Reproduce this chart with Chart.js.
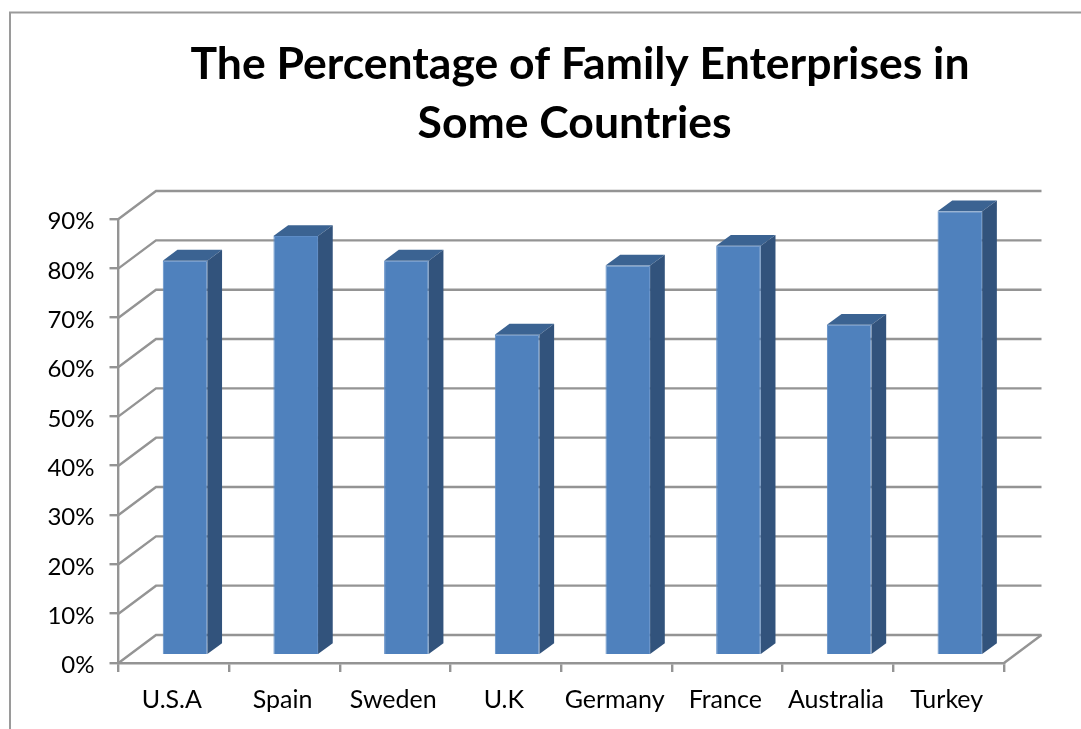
<!DOCTYPE html>
<html>
<head>
<meta charset="utf-8">
<style>
  html, body { margin: 0; padding: 0; background: #fff; overflow: hidden; }
  canvas { display: block; }
</style>
<script src="https://cdn.jsdelivr.net/npm/chart.js@4/dist/chart.umd.min.js"></script>
</head>
<body>
<canvas id="chart" width="1081" height="729"></canvas>
<script>
const categories = ['U.S.A', 'Spain', 'Sweden', 'U.K', 'Germany', 'France', 'Australia', 'Turkey'];
const percentages = [80, 85, 80, 65, 79, 83, 67, 90];
const titleLines = ['The Percentage of Family Enterprises in', 'Some Countries '];

const LINE = '#949494';
const LINE_WIDTH = 2.4;
const WALL = { dx: 37.5, dy: 28 };    // depth of the chart box
const SHIFT = { dx: 11.2, dy: 7.7 };  // bars stand partway into the box
const BAR = { dx: 14.7, dy: 10.8 };   // depth of each bar
const TOP_FACE = '#3b6392';
const SIDE_FACE = '#32537c';

function stroke(ctx, pts) {
  ctx.beginPath();
  pts.forEach((p, i) => i ? ctx.lineTo(p[0], p[1]) : ctx.moveTo(p[0], p[1]));
  ctx.stroke();
}
function face(ctx, pts, color) {
  ctx.beginPath();
  pts.forEach((p, i) => i ? ctx.lineTo(p[0], p[1]) : ctx.moveTo(p[0], p[1]));
  ctx.closePath();
  ctx.fillStyle = color;
  ctx.fill();
}

const box3d = {
  id: 'box3d',
  afterLayout(chart) {
    // the heading sits over the whole frame rather than the plot area
    chart.titleBlock.left += 78;
    chart.titleBlock.right += 78;
  },
  beforeDraw(chart) {
    const ctx = chart.ctx;
    ctx.save();
    ctx.strokeStyle = '#9a9a9a';
    ctx.lineWidth = 2;
    stroke(ctx, [[10, 729], [10, 12.5], [1081, 12.5]]);
    ctx.restore();
  },
  beforeDatasetsDraw(chart) {
    const { ctx, chartArea: a, scales: { y } } = chart;
    ctx.save();
    ctx.strokeStyle = LINE;
    ctx.lineWidth = LINE_WIDTH;
    y.ticks.forEach(t => {
      const py = y.getPixelForValue(t.value);
      stroke(ctx, [[a.left, py], [a.left + WALL.dx, py - WALL.dy], [a.right + WALL.dx, py - WALL.dy]]);
    });
    stroke(ctx, [[a.right, a.bottom], [a.right + WALL.dx, a.bottom - WALL.dy]]);
    ctx.restore();
  },
  beforeDatasetDraw(chart) {
    chart.ctx.save();
    chart.ctx.translate(SHIFT.dx, -SHIFT.dy);
  },
  afterDatasetDraw(chart, args) {
    const ctx = chart.ctx;
    chart.getDatasetMeta(args.index).data.forEach(bar => {
      const { x, y, base, width } = bar.getProps(['x', 'y', 'base', 'width'], true);
      const l = x - width / 2, r = x + width / 2;
      face(ctx, [[l, y], [l + BAR.dx, y - BAR.dy], [r + BAR.dx, y - BAR.dy], [r, y]], TOP_FACE);
      face(ctx, [[r, y], [r + BAR.dx, y - BAR.dy], [r + BAR.dx, base - BAR.dy], [r, base]], SIDE_FACE);
    });
    ctx.restore();
  }
};

new Chart(document.getElementById('chart'), {
  type: 'bar',
  data: {
    labels: categories,
    datasets: [{
      data: percentages,
      backgroundColor: '#4f81bd',
      borderColor: '#5d8cc6',
      borderWidth: 1,
      categoryPercentage: 1,
      barPercentage: 0.403
    }]
  },
  plugins: [box3d],
  options: {
    responsive: false,
    animation: false,
    layout: { padding: { left: 0, right: 77, top: 0, bottom: 0 } },
    plugins: {
      legend: { display: false },
      tooltip: { enabled: false },
      title: {
        display: true,
        text: titleLines,
        color: '#000',
        font: { family: 'Lato', size: 44.5, weight: 'bold', lineHeight: 1.326 },
        padding: { top: 35, bottom: 66 }
      }
    },
    scales: {
      x: {
        grid: { drawOnChartArea: false, tickLength: 9, color: LINE, lineWidth: LINE_WIDTH },
        border: { color: LINE, width: LINE_WIDTH },
        ticks: { color: '#000', font: { family: 'Lato', size: 25 }, padding: 13, labelOffset: -2, maxRotation: 0, autoSkip: false },
        afterFit(s) { s.height = 66; }
      },
      y: {
        min: 0,
        max: 90,
        grid: { drawOnChartArea: false, tickLength: 9, color: LINE, lineWidth: LINE_WIDTH },
        border: { color: LINE, width: LINE_WIDTH },
        ticks: { stepSize: 10, color: '#000', font: { family: 'Lato', size: 24 }, padding: 15, labelOffset: 2.5, callback: v => v + '%' },
        afterFit(s) { s.width = 118.5; }
      }
    }
  }
});
</script>
</body>
</html>
